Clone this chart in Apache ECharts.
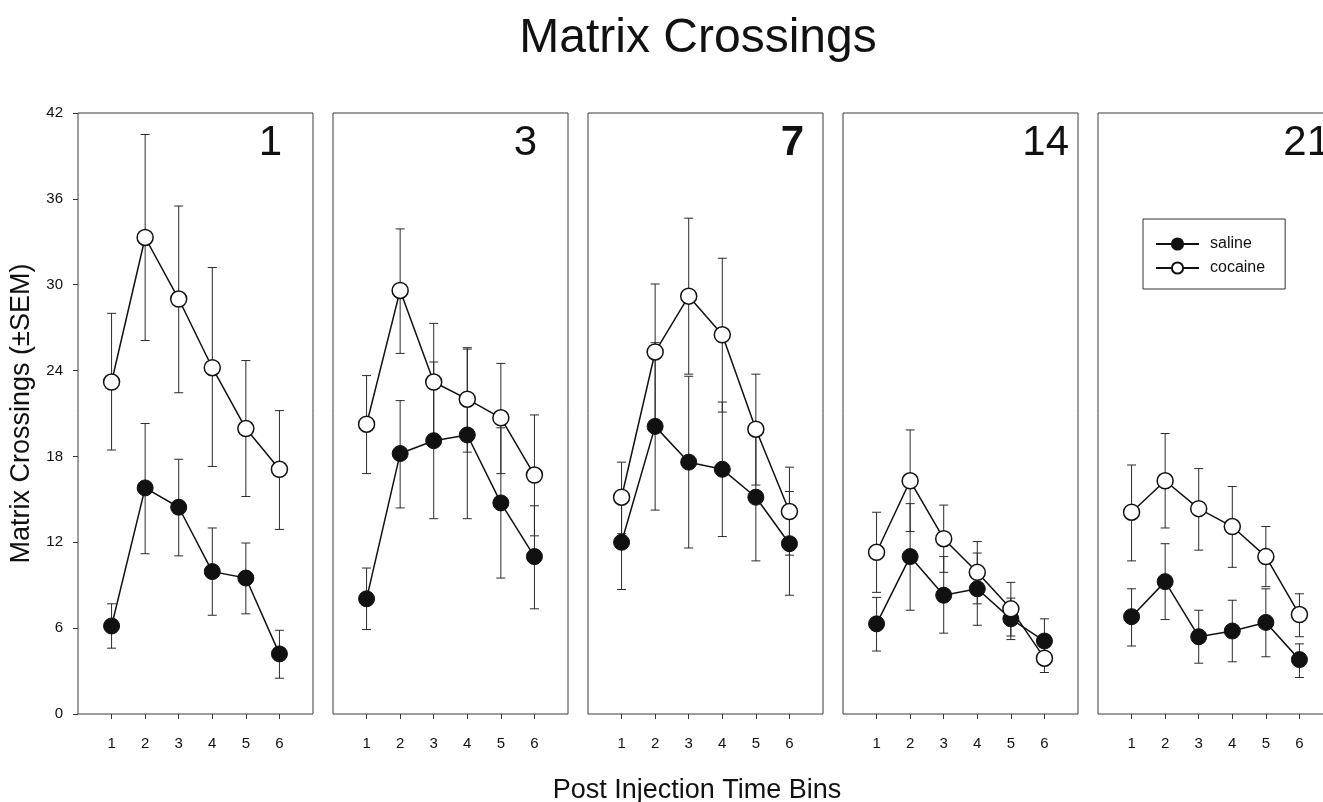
<!DOCTYPE html>
<html>
<head>
<meta charset="utf-8">
<title>Matrix Crossings</title>
<script src="https://cdn.jsdelivr.net/npm/echarts@6/dist/echarts.min.js"></script>
<style>
  html, body { margin: 0; padding: 0; background: #fff; overflow: hidden; }
  /* a little wider than the window: the last panel is cut off at the right edge */
  #main { width: 1345px; height: 802px; }
</style>
</head>
<body>
<div id="main"></div>
<script>
// days after injection, one panel each
const days = ['1', '3', '7', '14', '21'];
const bins = [1, 2, 3, 4, 5, 6];

// means and error bar ends (mean +/- SEM), one row per panel
const salineMean = [
  [6.15, 15.8, 14.45, 9.95, 9.5, 4.2],
  [8.05, 18.2, 19.1, 19.5, 14.75, 11.0],
  [12.0, 20.1, 17.6, 17.1, 15.15, 11.9],
  [6.3, 11.0, 8.3, 8.75, 6.65, 5.1],
  [6.8, 9.25, 5.4, 5.8, 6.4, 3.8]
];
const salineHigh = [
  [7.7, 20.3, 17.8, 13.0, 11.95, 5.85],
  [10.2, 21.9, 24.6, 25.5, 20.0, 14.55],
  [15.3, 25.95, 23.6, 21.8, 19.6, 15.55],
  [8.15, 14.7, 11.0, 11.25, 8.1, 6.65],
  [8.75, 11.9, 7.25, 7.95, 8.75, 4.9]
];
const salineLow = [
  [4.6, 11.2, 11.05, 6.9, 7.0, 2.5],
  [5.9, 14.4, 13.65, 13.65, 9.5, 7.35],
  [8.7, 14.25, 11.6, 12.4, 10.7, 8.3],
  [4.4, 7.25, 5.65, 6.2, 5.2, 3.6],
  [4.75, 6.6, 3.55, 3.65, 4.0, 2.55]
];
const cocaineMean = [
  [23.2, 33.3, 29.0, 24.2, 19.95, 17.1],
  [20.25, 29.6, 23.2, 22.0, 20.7, 16.7],
  [15.15, 25.3, 29.2, 26.5, 19.9, 14.15],
  [11.3, 16.3, 12.25, 9.9, 7.35, 3.9],
  [14.1, 16.3, 14.35, 13.1, 11.0, 6.95]
];
const cocaineHigh = [
  [28.0, 40.5, 35.5, 31.2, 24.7, 21.2],
  [23.65, 33.9, 27.3, 25.6, 24.5, 20.9],
  [17.6, 30.05, 34.65, 31.85, 23.75, 17.25],
  [14.1, 19.85, 14.6, 12.05, 9.2, 4.9],
  [17.4, 19.6, 17.15, 15.9, 13.1, 8.4]
];
const cocaineLow = [
  [18.45, 26.1, 22.45, 17.3, 15.2, 12.9],
  [16.8, 25.2, 19.1, 18.3, 16.8, 12.45],
  [12.6, 20.55, 23.75, 21.1, 16.0, 11.1],
  [8.5, 12.75, 9.9, 7.7, 5.45, 2.9],
  [10.7, 13.0, 11.45, 10.25, 8.9, 5.4]
];

// panel layout
const panelLeft = [78, 333, 588, 843, 1098];
const panelWidth = 235;
const panelTop = 113;
const panelHeight = 601;
const dayLabelRight = [282, 537, 804, 1069, 1330];

const font = '"Liberation Sans", Arial, Helvetica, sans-serif';
const ink = '#111';

function errSeries(name, i, high, low) {
  return {
    type: 'custom',
    name: name + ' sem',
    xAxisIndex: i,
    yAxisIndex: i,
    z: 1,
    silent: true,
    encode: { x: 0, y: [1, 2] },
    data: bins.map((b, k) => [b, high[k], low[k]]),
    renderItem: function (params, api) {
      const top = api.coord([api.value(0), api.value(1)]);
      const bot = api.coord([api.value(0), api.value(2)]);
      const w = 4.5;
      const st = { stroke: '#2a2a2a', lineWidth: 1 };
      return {
        type: 'group',
        children: [
          { type: 'line', shape: { x1: top[0], y1: top[1], x2: bot[0], y2: bot[1] }, style: st },
          { type: 'line', shape: { x1: top[0] - w, y1: top[1], x2: top[0] + w, y2: top[1] }, style: st },
          { type: 'line', shape: { x1: bot[0] - w, y1: bot[1], x2: bot[0] + w, y2: bot[1] }, style: st }
        ]
      };
    }
  };
}

function lineSeries(name, i, mean) {
  const filled = name === 'saline';
  return {
    type: 'line',
    name: name,
    xAxisIndex: i,
    yAxisIndex: i,
    z: 3,
    symbol: 'circle',
    symbolSize: 16,
    showSymbol: true,
    emphasis: { disabled: true },
    lineStyle: { color: ink, width: 1.5 },
    itemStyle: filled
      ? { color: ink, borderColor: ink, borderWidth: 1 }
      : { color: '#fff', borderColor: ink, borderWidth: 1.5 },
    data: bins.map((b, k) => [b, mean[k]])
  };
}

const grids = [], xAxes = [], yAxes = [], series = [];
const titles = [
  { text: 'Matrix Crossings', left: 698, top: 15, textAlign: 'center', padding: 0,
    textStyle: { fontFamily: font, fontSize: 48, fontWeight: 'normal', color: ink } },
  { text: 'Post Injection Time Bins', left: 697, top: 777, textAlign: 'center', padding: 0,
    textStyle: { fontFamily: font, fontSize: 27, fontWeight: 'normal', color: ink } }
];

days.forEach((d, i) => {
  grids.push({
    left: panelLeft[i], top: panelTop, width: panelWidth, height: panelHeight,
    show: true, borderColor: '#3a3a3a', borderWidth: 1, containLabel: false
  });
  xAxes.push({
    type: 'value', gridIndex: i, min: 0, max: 7, interval: 1,
    axisLine: { show: false },
    axisTick: { show: true, customValues: bins, length: 5, lineStyle: { color: '#333' } },
    axisLabel: { customValues: bins, margin: 22, fontSize: 15, fontFamily: font, color: ink },
    splitLine: { show: false }
  });
  yAxes.push({
    type: 'value', gridIndex: i, min: 0, max: 42, interval: 6,
    axisLine: { show: false },
    axisTick: { show: i === 0, length: 5, lineStyle: { color: '#333' } },
    axisLabel: { show: i === 0, margin: 15, fontSize: 15, fontFamily: font, color: ink },
    splitLine: { show: false },
    name: i === 0 ? 'Matrix Crossings (\u00b1SEM)' : '',
    nameLocation: 'middle',
    nameRotate: 90,
    nameGap: 43,
    nameTextStyle: { fontFamily: font, fontSize: 27, color: ink }
  });
  titles.push({
    text: d, left: dayLabelRight[i], top: 122, textAlign: 'right', padding: 0,
    textStyle: { fontFamily: font, fontSize: 42, fontWeight: d === '7' ? 'bold' : 'normal', color: ink }
  });
  series.push(errSeries('saline', i, salineHigh[i], salineLow[i]));
  series.push(errSeries('cocaine', i, cocaineHigh[i], cocaineLow[i]));
});
days.forEach((d, i) => {
  series.push(lineSeries('saline', i, salineMean[i]));
  series.push(lineSeries('cocaine', i, cocaineMean[i]));
});

const chart = echarts.init(document.getElementById('main'));
chart.setOption({
  animation: false,
  backgroundColor: '#fff',
  title: titles,
  legend: {
    data: ['saline', 'cocaine'],
    orient: 'vertical',
    left: 1143,
    top: 219,
    padding: [17, 20, 13, 12],
    itemGap: 8,
    itemWidth: 43,
    itemHeight: 14,
    selectedMode: false,
    borderColor: '#333',
    borderWidth: 1,
    textStyle: { fontFamily: font, fontSize: 16, color: ink, padding: [0, 0, 0, 6] }
  },
  grid: grids,
  xAxis: xAxes,
  yAxis: yAxes,
  series: series
});
</script>
</body>
</html>
